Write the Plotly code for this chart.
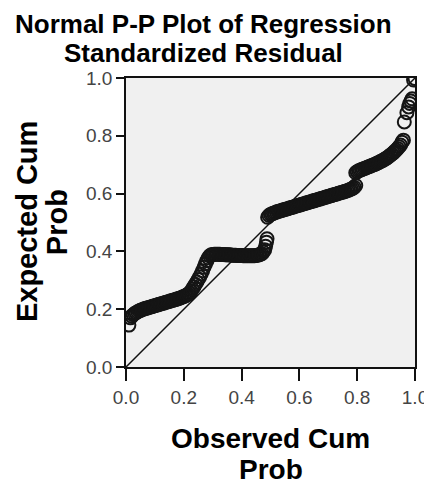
import plotly.graph_objects as go

# Points, grouped by the visible runs of the P-P curve.
# Observed cumulative probability (x) and expected cumulative probability (y).
low_obs = [0.010, 0.015, 0.020, 0.025, 0.030, 0.035, 0.040, 0.045, 0.050, 0.055,
           0.060, 0.065, 0.070, 0.075, 0.080, 0.085, 0.090, 0.095, 0.100, 0.105,
           0.110, 0.115, 0.120, 0.125, 0.130, 0.135, 0.140, 0.145, 0.150, 0.155,
           0.160, 0.165, 0.170, 0.175, 0.180, 0.185, 0.190, 0.195, 0.200, 0.205,
           0.210, 0.215, 0.220]
low_exp = [0.145, 0.170, 0.176, 0.181, 0.185, 0.188, 0.191, 0.194, 0.196, 0.198,
           0.200, 0.202, 0.203, 0.205, 0.206, 0.208, 0.209, 0.211, 0.212, 0.214,
           0.215, 0.217, 0.218, 0.220, 0.221, 0.223, 0.224, 0.226, 0.227, 0.229,
           0.230, 0.232, 0.233, 0.235, 0.236, 0.238, 0.240, 0.242, 0.244, 0.246,
           0.249, 0.252, 0.256]

rise_obs = [0.225, 0.230, 0.235, 0.240, 0.245, 0.250, 0.255, 0.260, 0.265, 0.270,
            0.275, 0.280, 0.285, 0.290]
rise_exp = [0.262, 0.270, 0.278, 0.286, 0.294, 0.303, 0.312, 0.322, 0.333, 0.345,
            0.357, 0.368, 0.378, 0.385]

flat_obs = [0.295, 0.300, 0.305, 0.310, 0.315, 0.320, 0.325, 0.330, 0.335, 0.340,
            0.345, 0.350, 0.355, 0.360, 0.365, 0.370, 0.375, 0.380, 0.385, 0.390,
            0.395, 0.400, 0.405, 0.410, 0.415, 0.420, 0.425, 0.430, 0.435, 0.440,
            0.445, 0.450, 0.455, 0.460, 0.465, 0.470, 0.475, 0.480, 0.483, 0.486,
            0.488]
flat_exp = [0.388, 0.389, 0.390, 0.390, 0.390, 0.390, 0.390, 0.389, 0.389, 0.389,
            0.388, 0.388, 0.388, 0.388, 0.387, 0.387, 0.387, 0.387, 0.386, 0.386,
            0.386, 0.386, 0.385, 0.385, 0.385, 0.385, 0.385, 0.385, 0.385, 0.385,
            0.385, 0.386, 0.387, 0.388, 0.390, 0.392, 0.398, 0.406, 0.418, 0.432,
            0.444]

mid_obs = [0.490, 0.495, 0.500, 0.505, 0.510, 0.515, 0.520, 0.525, 0.530, 0.535,
           0.540, 0.545, 0.550, 0.555, 0.560, 0.565, 0.570, 0.575, 0.580, 0.585,
           0.590, 0.595, 0.600, 0.605, 0.610, 0.615, 0.620, 0.625, 0.630, 0.635,
           0.640, 0.645, 0.650, 0.655, 0.660, 0.665, 0.670, 0.675, 0.680, 0.685,
           0.690, 0.695, 0.700, 0.705, 0.710, 0.715, 0.720, 0.725, 0.730, 0.735,
           0.740, 0.745, 0.750, 0.755, 0.760, 0.765, 0.770, 0.775, 0.780, 0.785,
           0.790, 0.795]
mid_exp = [0.518, 0.524, 0.528, 0.530, 0.532, 0.534, 0.536, 0.538, 0.539, 0.541,
           0.542, 0.544, 0.545, 0.547, 0.548, 0.550, 0.551, 0.553, 0.554, 0.556,
           0.557, 0.559, 0.560, 0.562, 0.563, 0.565, 0.566, 0.568, 0.569, 0.571,
           0.572, 0.574, 0.575, 0.577, 0.578, 0.580, 0.581, 0.583, 0.584, 0.586,
           0.587, 0.589, 0.590, 0.592, 0.593, 0.595, 0.596, 0.598, 0.599, 0.601,
           0.602, 0.604, 0.605, 0.607, 0.608, 0.610, 0.612, 0.614, 0.616, 0.619,
           0.622, 0.628]

high_obs = [0.795, 0.800, 0.805, 0.810, 0.815, 0.820, 0.825, 0.830, 0.835, 0.840,
            0.845, 0.850, 0.855, 0.860, 0.865, 0.870, 0.875, 0.880, 0.885, 0.890,
            0.895, 0.900, 0.905, 0.910, 0.915, 0.920, 0.925, 0.930, 0.935, 0.940,
            0.945, 0.950, 0.955, 0.960]
high_exp = [0.672, 0.676, 0.679, 0.681, 0.683, 0.685, 0.687, 0.689, 0.691, 0.693,
            0.695, 0.697, 0.699, 0.701, 0.703, 0.706, 0.708, 0.711, 0.713, 0.716,
            0.719, 0.722, 0.725, 0.729, 0.733, 0.737, 0.741, 0.746, 0.751, 0.756,
            0.762, 0.768, 0.778, 0.785]

top_obs = [0.963, 0.972, 0.978, 0.982, 0.986, 0.990, 0.995, 1.000]
top_exp = [0.848, 0.880, 0.900, 0.912, 0.920, 0.928, 0.993, 0.998]

obs_prob = low_obs + rise_obs + flat_obs + mid_obs + high_obs + top_obs
exp_prob = low_exp + rise_exp + flat_exp + mid_exp + high_exp + top_exp

ref_line = [0.0, 1.0]
tick_vals = [0.0, 0.2, 0.4, 0.6, 0.8, 1.0]
tick_text = ["0.0", "0.2", "0.4", "0.6", "0.8", "1.0"]

FONT = "Liberation Sans, Arial, sans-serif"

fig = go.Figure()
fig.add_trace(go.Scatter(
    x=ref_line, y=ref_line, mode="lines",
    line=dict(color="#111111", width=1.5), hoverinfo="skip", showlegend=False,
))
fig.add_trace(go.Scatter(
    x=obs_prob, y=exp_prob, mode="markers",
    marker=dict(symbol="circle-open", size=13, color="#151515", line=dict(width=2, color="#151515")),
    showlegend=False,
))

axis_common = dict(
    range=[0, 1], tickvals=tick_vals, ticktext=tick_text,
    showgrid=False, zeroline=False, showline=True, linecolor="#111111", linewidth=1.5,
    mirror=True, ticks="outside", tickcolor="#111111", tickwidth=1.5,
    tickfont=dict(family=FONT, size=19, color="#444444"),
    ticklabeloverflow="allow", automargin=False,
)
fig.update_xaxes(**axis_common, ticklen=12)
fig.update_yaxes(**axis_common, ticklen=8)

ann = []
def add_text(text, x, y, size, angle=0):
    ann.append(dict(text=text, x=x, y=y, xref="paper", yref="paper", showarrow=False,
                    xanchor="center", yanchor="middle", textangle=angle,
                    font=dict(family=FONT, size=size, color="#000000")))

add_text("<b>Normal P-P Plot of Regression</b>", 0.267, 1.187, 26)
add_text("<b>Standardized Residual</b>", 0.267, 1.087, 26)
add_text("<b>Observed Cum</b>", 0.5, -0.249, 28)
add_text("<b>Prob</b>", 0.5, -0.3545, 28)
add_text("<b>Expected Cum</b>", -0.342, 0.502, 29, -90)
add_text("<b>Prob</b>", -0.238, 0.502, 29, -90)

fig.update_layout(
    width=424, height=484,
    margin=dict(l=126, r=9, t=78, b=117, pad=0),
    paper_bgcolor="#ffffff", plot_bgcolor="#f0f0f0",
    annotations=ann, showlegend=False,
)

fig.write_html("out.html")
